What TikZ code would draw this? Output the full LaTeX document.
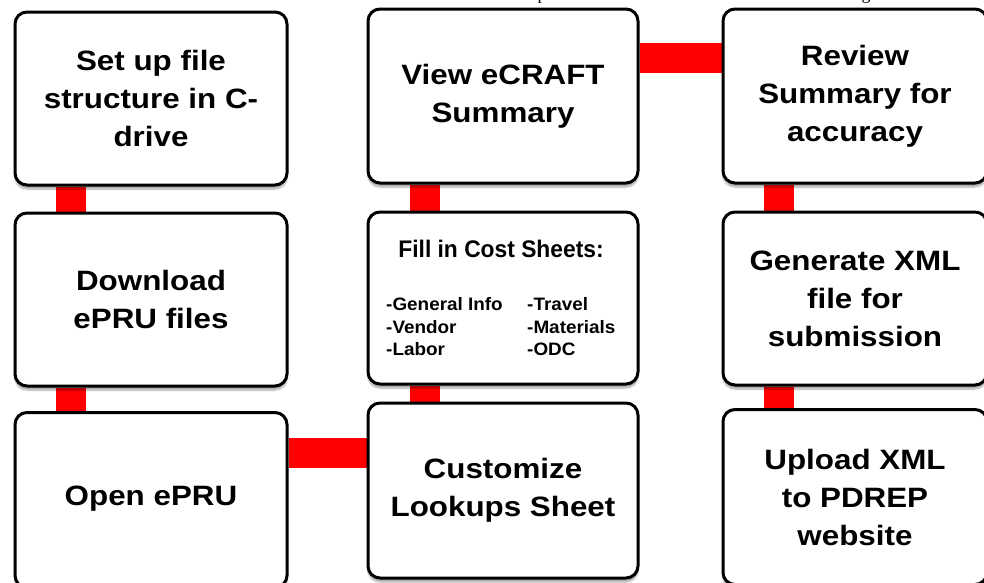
\documentclass[tikz,border=0pt]{standalone}
\usepackage{fontspec}
\setmainfont{Liberation Serif}
\newfontfamily\boxfont[FakeStretch=1.12]{Liberation Sans}
\newfontfamily\titlefont[FakeStretch=0.95]{Liberation Sans}
\newfontfamily\listfont[FakeStretch=1.05]{Liberation Sans}
\usetikzlibrary{shadows.blur,backgrounds}
\begin{document}
\begin{tikzpicture}[x=1pt,y=-1pt,
  box/.style={draw=black, line width=3pt, rounded corners=12pt, fill=white,
    inner sep=0pt, align=center,
    font=\boxfont\bfseries\fontsize{28}{38}\selectfont,
    blur shadow={shadow xshift=0pt, shadow yshift=-4pt, shadow opacity=35, shadow blur steps=6}},
  conn/.style={draw=red, line width=30pt},
  frag/.style={anchor=base, inner sep=0pt, font=\fontsize{18}{20}\selectfont}]
\useasboundingbox (0,0) rectangle (984,582);
\begin{scope}
\clip (0,0) rectangle (984,582);
\node[frag] (fragp) at (542,-0.5) {p};
\node[frag] (fragg) at (866,-0.5) {g};
% boxes
\node[box, minimum width=272pt, minimum height=173pt] (a1) at (151,98.5) {Set up file\\structure in C-\\drive};
\node[box, minimum width=272pt, minimum height=173pt] (a2) at (151,299.5) {Download\\ePRU files};
\node[box, minimum width=272pt, minimum height=175pt] (a3) at (151,500) {\raisebox{9pt}{Open ePRU}};
\node[box, minimum width=270pt, minimum height=174pt] (b1) at (503,96) {View eCRAFT\\Summary};
\node[box, minimum width=270pt, minimum height=172pt] (b2) at (503,298) {};
\node[box, minimum width=270pt, minimum height=175pt] (b3) at (503,490.5) {Customize\\Lookups Sheet};
\node[box, minimum width=264pt, minimum height=174pt] (c1) at (855,96) {Review\\Summary for\\accuracy};
\node[box, minimum width=264pt, minimum height=173pt] (c2) at (855,298.5) {Generate XML\\file for\\submission};
\node[box, minimum width=264pt, minimum height=175pt] (c3) at (855,497) {Upload XML\\to PDREP\\website};
% cost sheet texts
\node[inner sep=0pt, font=\titlefont\bfseries\fontsize{24}{28}\selectfont] (b2t) at (501,249) {Fill in Cost Sheets:};
\node[anchor=west, align=left, inner sep=0pt, font=\listfont\bfseries\fontsize{18}{22.5}\selectfont] (b2l) at (386,327) {-General Info\\-Vendor\\-Labor};
\node[anchor=west, align=left, inner sep=0pt, font=\listfont\bfseries\fontsize{18}{22.5}\selectfont] (b2r) at (527,327) {-Travel\\-Materials\\-ODC};
% connectors
\coordinate (h1) at (0,57.5);
\coordinate (h2) at (0,452.5);
\begin{scope}[on background layer]
\draw[conn] ([xshift=-80pt]a1.south) -- ([xshift=-80pt]a2.north);
\draw[conn] ([xshift=-80pt]a2.south) -- ([xshift=-80pt]a3.north);
\draw[conn] ([xshift=-78pt]b1.south) -- ([xshift=-78pt]b2.north);
\draw[conn] ([xshift=-78pt]b2.south) -- ([xshift=-78pt]b3.north);
\draw[conn] ([xshift=-76pt]c1.south) -- ([xshift=-76pt]c2.north);
\draw[conn] ([xshift=-76pt]c2.south) -- ([xshift=-76pt]c3.north);
\draw[conn] (b1.east |- h1) -- (c1.west |- h1);
\draw[conn] (a3.east |- h2) -- (b3.west |- h2);
\end{scope}
\end{scope}
\end{tikzpicture}
\end{document}
